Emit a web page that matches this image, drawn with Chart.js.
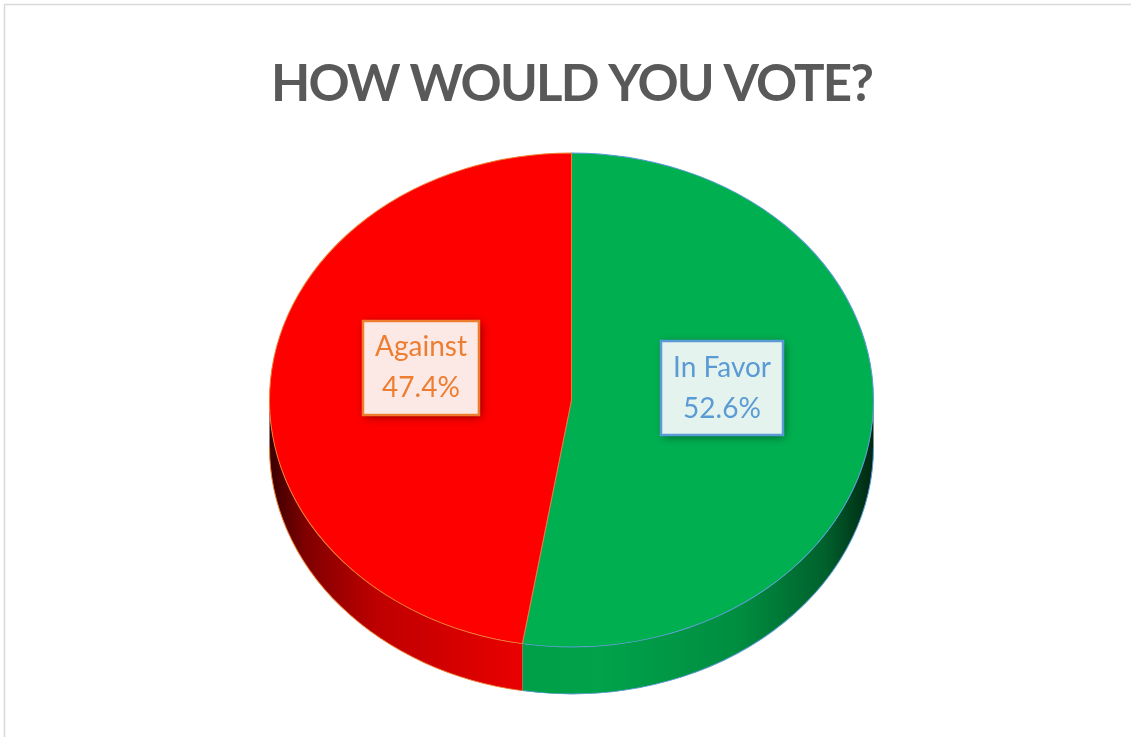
<!DOCTYPE html>
<html>
<head>
<meta charset="utf-8">
<title>How would you vote?</title>
<script src="https://cdn.jsdelivr.net/npm/chart.js@4.4.1/dist/chart.umd.min.js"></script>
<style>
    html, body { margin: 0; padding: 0; background: #fff; }
    canvas { display: block; }
</style>
</head>
<body>
<canvas id="voteChart" width="1131" height="737"></canvas>
<script>
//poll results
let voteLabels = ["In Favor", "Against"];
let voteShares = [52.6, 47.4];

let sliceColors = ["#00B050", "#FF0000"];
let edgeColors = ["#5B9BD5", "#ED7D31"];
let labelFills = ["#E4F3EE", "#FCE9E6"];

//flat pie gets squashed onto this ellipse, with a side wall below it
let pie3d = { cy: 400, rx: 302, ry: 247, depth: 47, labelLift: 22 };

function hexRgb(hex) {
    let n = parseInt(hex.slice(1), 16);
    return [(n >> 16) & 255, (n >> 8) & 255, n & 255];
}

function shade(rgb, k) {
    return "rgb(" + rgb.map(v => Math.round(v * k)).join(",") + ")";
}

//darker towards the left and right ends of the wall
function sideGradient(ctx, x0, x1, color) {
    let rgb = hexRgb(color);
    let g = ctx.createLinearGradient(x0, 0, x1, 0);
    g.addColorStop(0, shade(rgb, 0.22));
    g.addColorStop(0.06, shade(rgb, 0.5));
    g.addColorStop(0.18, shade(rgb, 0.75));
    g.addColorStop(0.4, shade(rgb, 0.9));
    g.addColorStop(0.55, shade(rgb, 0.92));
    g.addColorStop(0.78, shade(rgb, 0.8));
    g.addColorStop(0.92, shade(rgb, 0.55));
    g.addColorStop(1, shade(rgb, 0.22));
    return g;
}

//parts of an arc that face the viewer (canvas angles 0..PI)
function frontParts(start, end) {
    let parts = [];
    for (let k = -1; k <= 1; k++) {
        let lo = Math.max(start, k * 2 * Math.PI);
        let hi = Math.min(end, k * 2 * Math.PI + Math.PI);
        if (hi > lo) parts.push([lo, hi]);
    }
    return parts;
}

function drawLabel(ctx, cx, cy, i) {
    let lines = [voteLabels[i], voteShares[i].toFixed(1) + "%"];
    ctx.save();
    ctx.font = "28px Lato";
    let w = Math.max(...lines.map(t => ctx.measureText(t).width)) + 24;
    let h = lines.length * 41 + 12;
    let x = Math.round(cx - w / 2), y = Math.round(cy - h / 2);

    ctx.save();
    ctx.shadowColor = "rgba(0,0,0,0.45)";
    ctx.shadowBlur = 9;
    ctx.shadowOffsetX = 2;
    ctx.shadowOffsetY = 2;
    ctx.fillStyle = labelFills[i];
    ctx.fillRect(x, y, w, h);
    ctx.restore();

    ctx.strokeStyle = edgeColors[i];
    ctx.lineWidth = 2.5;
    ctx.strokeRect(x, y, w, h);

    ctx.fillStyle = edgeColors[i];
    ctx.textAlign = "center";
    ctx.textBaseline = "middle";
    lines.forEach((t, j) => {
        ctx.fillText(t, x + w / 2, cy + (j - (lines.length - 1) / 2) * 41);
    });
    ctx.restore();
}

let pie3dPlugin = {
    id: "pie3d",
    beforeDraw(chart) {
        let ctx = chart.ctx;
        ctx.save();
        ctx.strokeStyle = "#D9D9D9";
        ctx.lineWidth = 1.5;
        ctx.strokeRect(4.5, 4.5, chart.width + 20, chart.height + 20);
        ctx.restore();
        //tighter title lettering
        ctx.letterSpacing = "-1.8px";
    },
    beforeDatasetsDraw(chart) {
        let ctx = chart.ctx;
        ctx.letterSpacing = "0px";
        let arcs = chart.getDatasetMeta(0).data;
        let a0 = arcs[0];
        let r = a0.outerRadius;
        let sx = pie3d.rx / r;
        let sy = pie3d.ry / r;
        let depth = pie3d.depth / sy;

        ctx.save();
        ctx.translate(a0.x, pie3d.cy);
        ctx.scale(sx, sy);
        ctx.translate(-a0.x, -a0.y);

        arcs.forEach((arc, i) => {
            let fill = sideGradient(ctx, arc.x - r, arc.x + r, sliceColors[i]);
            frontParts(arc.startAngle, arc.endAngle).forEach(([lo, hi]) => {
                ctx.beginPath();
                ctx.arc(arc.x, arc.y, r, lo, hi);
                ctx.lineTo(arc.x + r * Math.cos(hi), arc.y + depth + r * Math.sin(hi));
                ctx.arc(arc.x, arc.y + depth, r, hi, lo, true);
                ctx.closePath();
                ctx.fillStyle = fill;
                ctx.fill();

                ctx.beginPath();
                ctx.arc(arc.x, arc.y + depth, r, lo, hi);
                ctx.strokeStyle = edgeColors[i];
                ctx.lineWidth = 1;
                ctx.stroke();
            });
        });
    },
    afterDatasetsDraw(chart) {
        let ctx = chart.ctx;
        ctx.restore();

        let arcs = chart.getDatasetMeta(0).data;
        let a0 = arcs[0];
        let sx = pie3d.rx / a0.outerRadius;
        let sy = pie3d.ry / a0.outerRadius;
        arcs.forEach((arc, i) => {
            let p = arc.tooltipPosition();
            let x = a0.x + (p.x - a0.x) * sx;
            let y = pie3d.cy + (p.y - a0.y) * sy - pie3d.labelLift;
            drawLabel(ctx, x, y, i);
        });
    },
};

let voteData = {
    labels: voteLabels,
    datasets: [{
        data: voteShares,
        backgroundColor: sliceColors,
        borderColor: edgeColors,
        borderWidth: 1,
        clip: false,
    }, ],
};

let voteOptions = {
    responsive: false,
    animation: false,
    devicePixelRatio: 1,
    events: [],
    rotation: 0,
    layout: {
        padding: { left: 12, bottom: 17 },
    },
    plugins: {
        legend: { display: false },
        tooltip: { enabled: false },
        title: {
            display: true,
            text: "HOW WOULD YOU VOTE?",
            color: "#595959",
            font: { family: "Lato", size: 51, weight: "bold" },
            padding: { top: 54, bottom: 0 },
        },
    },
};

Promise.all([
    document.fonts.load("bold 51px Lato"),
    document.fonts.load("28px Lato"),
]).catch(() => {}).then(() => {
    new Chart(document.getElementById("voteChart").getContext("2d"), {
        type: "pie",
        data: voteData,
        options: voteOptions,
        plugins: [pie3dPlugin],
    });
});
</script>
</body>
</html>
